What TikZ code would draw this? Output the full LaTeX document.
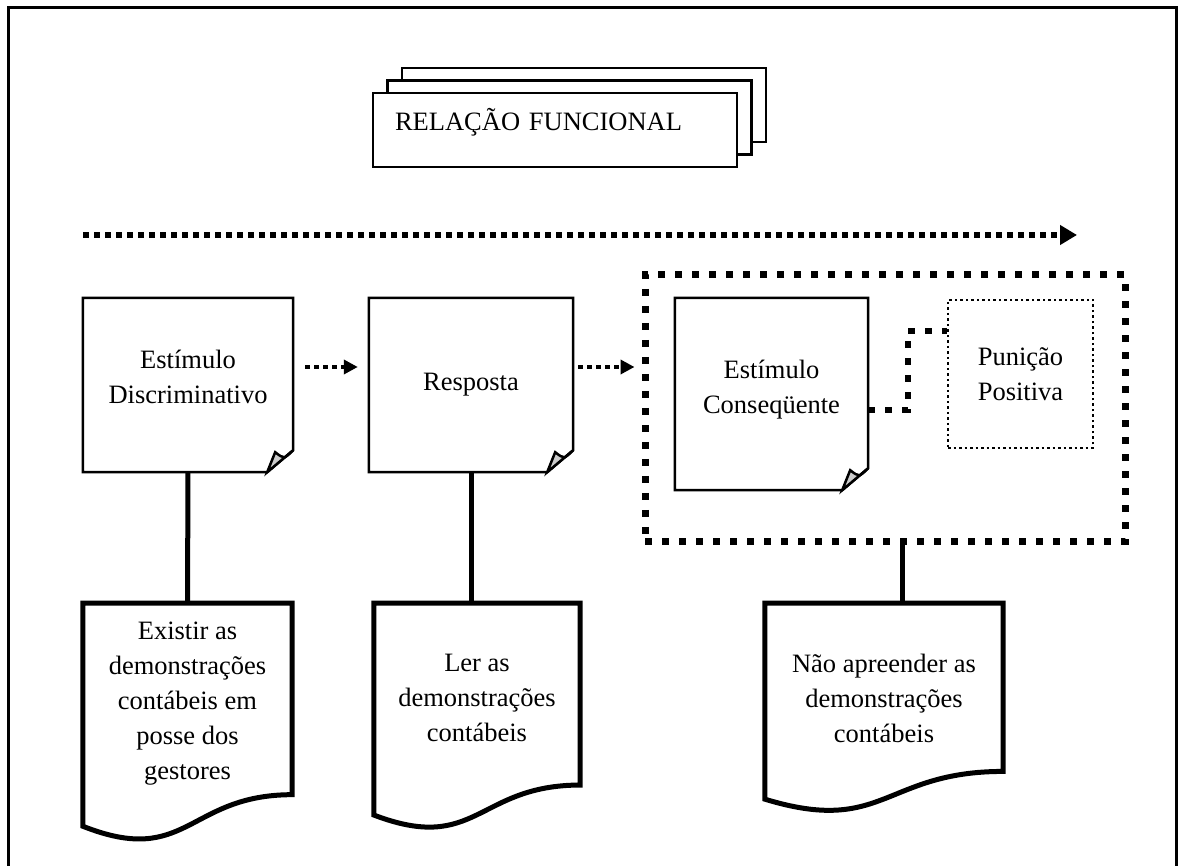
\documentclass[tikz,border=0pt]{standalone}
\usepackage{fontspec}
\setmainfont{Liberation Serif}
\usetikzlibrary{arrows.meta,calc}
\begin{document}
\begin{tikzpicture}[x=1pt, y=-1pt,
    every node/.style={font=\fontsize{26.5}{35}\selectfont, align=center, inner sep=0pt},
    outline/.style={line width=2.5pt},
    notebox/.style={minimum width=#1},
    docbox/.style={anchor=north, minimum width=#1},
    docline/.style={line width=5pt},
    linkline/.style={line width=5pt},
    holder/.style={draw, line width=7pt, dash pattern=on 7pt off 10pt},
    punbox/.style={draw, line width=2.5pt, dash pattern=on 2.5pt off 3pt},
    sqdots/.style={line width=6.5pt, dash pattern=on 7pt off 10pt},
    flowarrow/.style={line width=4.5pt, dash pattern=on 4.5pt off 4.5pt, -{Triangle[length=14pt,width=14pt]}},
    bigarrow/.style={line width=6pt, dash pattern=on 6pt off 5pt, -{Triangle[length=17pt,width=19pt]}}]
    \useasboundingbox (0,0) rectangle (1179,866);
    \draw[line width=3pt] (8,8) rectangle (1176,880);
    % title with its two copies behind
    \foreach \k in {2,1}
    \draw[outline, fill=white] (373+14.5*\k,93-12.5*\k) rectangle ++(364,74);
    \node[outline, draw, fill=white, minimum width=364pt, minimum height=74pt,
          text width=320pt, align=left, text depth=22pt] (rf) at (555,130) {RELAÇÃO FUNCIONAL};
    \coordinate (fs) at (83,235);
    \coordinate (fe) at (1077,235);
    \draw[bigarrow] (fs) -- (fe);
    % contingency
    \node[notebox=210pt, minimum height=174pt, text depth=16pt] (sd) at (188,385) {Estímulo\\Discriminativo};
    \node[notebox=204pt, minimum height=174pt] (rs) at (471,385) {Resposta};
    \node[holder, minimum width=480pt, minimum height=267pt] (cq) at (885,408.5) {};
    \node[notebox=193pt, minimum height=192pt, text depth=14pt] (ce) at (771.5,394) {Estímulo\\Conseqüente};
    \node[punbox, minimum width=145pt, minimum height=148pt] (pp) at (1020.5,374) {Punição\\Positiva};
    \foreach \n in {sd,rs,ce} {
    \draw[outline] (\n.north west) -- (\n.north east) -- ([yshift=22pt]\n.south east)
        -- ([xshift=-26pt]\n.south east) -- (\n.south west) -- cycle;
    \filldraw[outline, fill=black!20] ([xshift=-26pt]\n.south east) -- ([xshift=-18pt,yshift=20pt]\n.south east)
        .. controls ([xshift=-9pt,yshift=13pt]\n.south east) .. ([yshift=22pt]\n.south east) -- cycle;
    }
    \draw[flowarrow] ([xshift=12pt,yshift=18pt]sd.east) -- ([xshift=-11pt,yshift=18pt]rs.west);
    \draw[flowarrow] ([xshift=5pt,yshift=18pt]rs.east) -- ($(cq.west |- rs.east)+(-7,-18)$);
    \draw[sqdots] ([yshift=-16pt]ce.east) -- ++(40,0) |- ([yshift=43pt]pp.west);
    % documents
    \node[docbox=209pt, minimum height=201pt] (d1) at (187.5,603)
        {Existir as\\demonstrações\\contábeis em\\posse dos\\gestores};
    \node[docbox=206pt, minimum height=190pt] (d2) at (477,603)
        {Ler as\\demonstrações\\contábeis};
    \node[docbox=238pt, minimum height=190pt] (d3) at (884,603)
        {Não apreender as\\demonstrações\\contábeis};
    \foreach \n/\h in {d1/239,d2/227,d3/210}
    \draw[docline] (\n.north west) -- (\n.north east) -- ++(0,0.802*\h)
        .. controls ($(\n.north)+(0,0.802*\h)$) and ($(\n.north)+(0,1.1075*\h)$) .. ($(\n.north west)+(0,0.934*\h)$) -- cycle;
    \draw[linkline] (sd.south) -- (d1.north);
    \draw[linkline] (rs.south) -- (rs.south |- d2.north);
    \draw[linkline] ($(cq.south)+(17,0)$) -- ($(cq.south |- d3.north)+(17,0)$);
\end{tikzpicture}
\end{document}
